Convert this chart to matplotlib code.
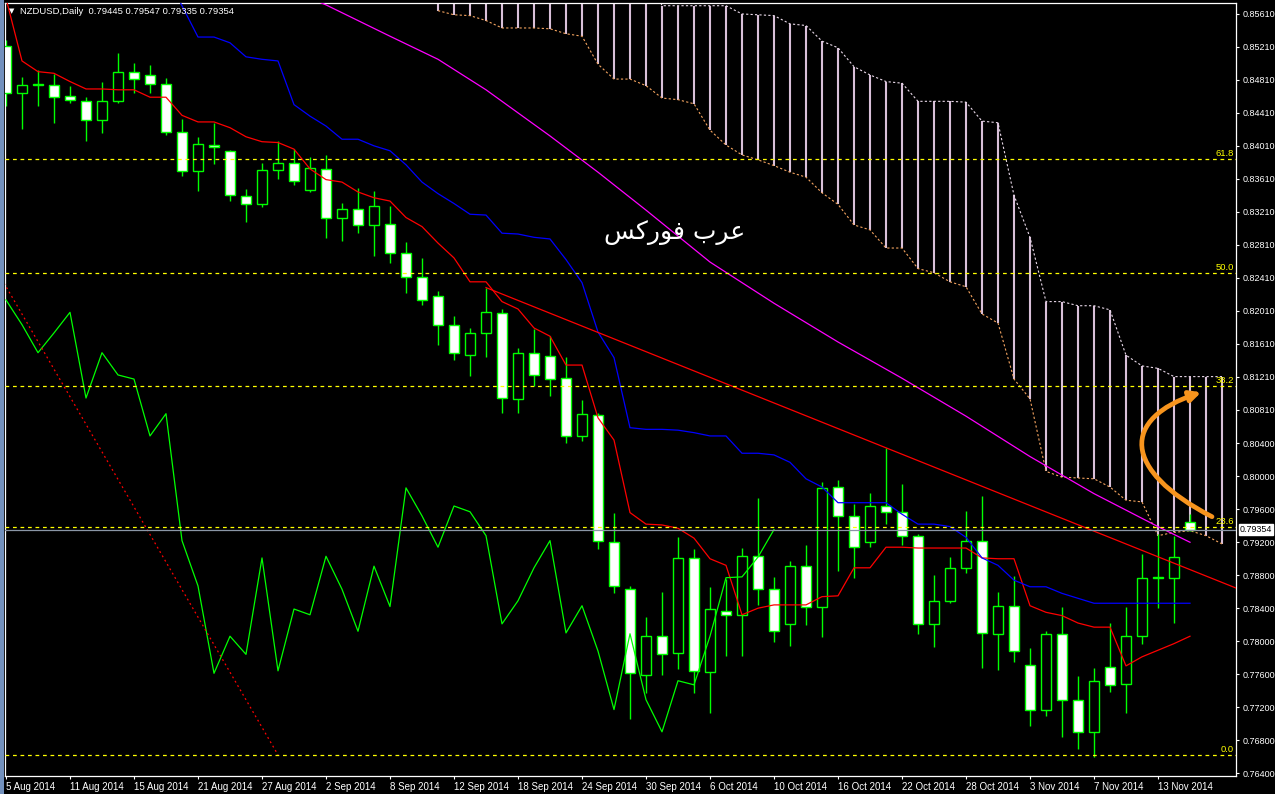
import numpy as np
import pandas as pd
import matplotlib
matplotlib.use("Agg")
import matplotlib.pyplot as plt
from matplotlib.patches import Rectangle, FancyArrowPatch
from matplotlib.path import Path
import matplotlib.transforms as mtransforms

plt.rcParams['font.family'] = ['Liberation Sans', 'DejaVu Sans']

# ---------------- data ----------------
symbol = "NZDUSD,Daily"
dates = pd.bdate_range('2014-08-05', periods=75)

opens = [0.8522, 0.8465, 0.8476, 0.8475, 0.8462, 0.8455, 0.8432, 0.8455, 0.8491, 0.8487,
         0.8476, 0.8418, 0.8371, 0.8402, 0.8395, 0.8340, 0.8331, 0.8372, 0.8380, 0.8347,
         0.8373, 0.8314, 0.8324, 0.8305, 0.8306, 0.8271, 0.8242, 0.8219, 0.8184, 0.8147,
         0.8174, 0.8198, 0.8094, 0.8150, 0.8146, 0.8119, 0.8049, 0.8074, 0.7920, 0.7863,
         0.7759, 0.7806, 0.7786, 0.7901, 0.7763, 0.7837, 0.7832, 0.7903, 0.7863, 0.7821,
         0.7891, 0.7842, 0.7987, 0.7952, 0.7920, 0.7964, 0.7957, 0.7928, 0.7821, 0.7849,
         0.7889, 0.7922, 0.7809, 0.7843, 0.7771, 0.7717, 0.7809, 0.7729, 0.7690, 0.7769,
         0.7748, 0.7806, 0.7877, 0.7877, 0.79445]
highs = [0.8530, 0.8485, 0.8493, 0.8488, 0.8474, 0.8460, 0.8479, 0.8514, 0.8502, 0.8499,
         0.8483, 0.8434, 0.8412, 0.8429, 0.8396, 0.8349, 0.8380, 0.8407, 0.8397, 0.8388,
         0.8390, 0.8332, 0.8350, 0.8346, 0.8328, 0.8284, 0.8265, 0.8225, 0.8195, 0.8180,
         0.8229, 0.8203, 0.8156, 0.8179, 0.8170, 0.8145, 0.8093, 0.8077, 0.7956, 0.7867,
         0.7829, 0.7860, 0.7926, 0.7912, 0.7866, 0.7875, 0.7913, 0.7974, 0.7878, 0.7897,
         0.7917, 0.7993, 0.7996, 0.7966, 0.7980, 0.8034, 0.7991, 0.7930, 0.7880, 0.7902,
         0.7958, 0.7976, 0.7860, 0.7879, 0.7792, 0.7812, 0.7842, 0.7758, 0.7767, 0.7822,
         0.7842, 0.7906, 0.7930, 0.7928, 0.79547]
lows = [0.8449, 0.8421, 0.8449, 0.8429, 0.8453, 0.8407, 0.8417, 0.8453, 0.8465, 0.8465,
        0.8414, 0.8364, 0.8346, 0.8379, 0.8334, 0.8309, 0.8327, 0.8361, 0.8354, 0.8345,
        0.8289, 0.8286, 0.8295, 0.8267, 0.8259, 0.8223, 0.8208, 0.8159, 0.8141, 0.8122,
        0.8145, 0.8077, 0.8077, 0.8110, 0.8098, 0.8040, 0.8043, 0.7912, 0.7858, 0.7706,
        0.7737, 0.7759, 0.7766, 0.7737, 0.7713, 0.7782, 0.7782, 0.7844, 0.7799, 0.7794,
        0.7820, 0.7805, 0.7885, 0.7877, 0.7914, 0.7942, 0.7917, 0.7809, 0.7793, 0.7846,
        0.7883, 0.7767, 0.7765, 0.7775, 0.7697, 0.7709, 0.7684, 0.7669, 0.7659, 0.7738,
        0.7713, 0.7797, 0.7840, 0.7822, 0.79335]
closes = [0.8465, 0.8475, 0.8475, 0.8460, 0.8457, 0.8432, 0.8455, 0.8491, 0.8482, 0.8476,
          0.8418, 0.8371, 0.8403, 0.8400, 0.8341, 0.8331, 0.8372, 0.8380, 0.8358, 0.8374,
          0.8314, 0.8324, 0.8305, 0.8328, 0.8271, 0.8242, 0.8214, 0.8184, 0.8150, 0.8174,
          0.8199, 0.8095, 0.8150, 0.8123, 0.8118, 0.8049, 0.8076, 0.7922, 0.7867, 0.7761,
          0.7806, 0.7784, 0.7901, 0.7764, 0.7839, 0.7832, 0.7903, 0.7863, 0.7812, 0.7891,
          0.7842, 0.7986, 0.7952, 0.7914, 0.7964, 0.7957, 0.7928, 0.7821, 0.7849, 0.7889,
          0.7922, 0.7810, 0.7843, 0.7788, 0.7717, 0.7809, 0.7729, 0.7690, 0.7752, 0.7747,
          0.7806, 0.7877, 0.7878, 0.7902, 0.79354]

tenkan = [0.8580, 0.8504, 0.8491, 0.8489, 0.8479, 0.8470, 0.8470, 0.8469, 0.8469, 0.8460,
          0.8460, 0.8438, 0.8430, 0.8430, 0.8423, 0.8412, 0.8406, 0.8405, 0.8397, 0.8373,
          0.8360, 0.8357, 0.8345, 0.8338, 0.8334, 0.8314, 0.8303, 0.8283, 0.8265, 0.8236,
          0.8236, 0.8212, 0.8203, 0.8180, 0.8170, 0.8135, 0.8135, 0.8071, 0.8044, 0.7956,
          0.7942, 0.7941, 0.7937, 0.7925, 0.7900, 0.7892, 0.7832, 0.7840, 0.7844, 0.7844,
          0.7844, 0.7854, 0.7855, 0.7889, 0.7889, 0.7914, 0.7914, 0.7913, 0.7913, 0.7913,
          0.7913, 0.7901, 0.7900, 0.7900, 0.7843, 0.7835, 0.7831, 0.7822, 0.7817, 0.7817,
          0.7770, 0.7781, 0.7789, 0.7797, 0.7806]

kijun = [np.nan, np.nan, np.nan, np.nan, np.nan, np.nan, np.nan, np.nan, np.nan, np.nan,
         0.8608, 0.8571, 0.8533, 0.8533, 0.8526, 0.8509, 0.8506, 0.8504, 0.8451, 0.8437,
         0.8425, 0.8409, 0.8409, 0.8401, 0.8395, 0.8378, 0.8357, 0.8343, 0.8331, 0.8318,
         0.8317, 0.8295, 0.8294, 0.8290, 0.8288, 0.8263, 0.8235, 0.8175, 0.8144, 0.8059,
         0.8057, 0.8057, 0.8056, 0.8053, 0.8049, 0.8049, 0.8028, 0.8028, 0.8026, 0.8017,
         0.7997, 0.7987, 0.7968, 0.7968, 0.7968, 0.7968, 0.7954, 0.7942, 0.7942, 0.7939,
         0.7926, 0.7901, 0.7892, 0.7874, 0.7866, 0.7866, 0.7858, 0.7852, 0.7846, 0.7846,
         0.7846, 0.7846, 0.7846, 0.7846, 0.7846]

ma_bars = [19, 20, 24, 27, 30, 34, 37, 40, 44, 48, 52, 56, 60, 64, 68, 72, 74]
ma_vals = [0.8580, 0.8572, 0.8534, 0.8506, 0.8469, 0.8413, 0.8369, 0.8323, 0.8260, 0.8210,
           0.8163, 0.8119, 0.8073, 0.8024, 0.7979, 0.7939, 0.7920]

kumo_first_bar = 27
span_a = [0.8565, 0.8560, 0.8559, 0.8553, 0.8544, 0.8544, 0.8544, 0.8543, 0.8537, 0.8534,
          0.8500, 0.8482, 0.8482, 0.8474, 0.8459, 0.8457, 0.8452, 0.8420, 0.8402, 0.8390,
          0.8384, 0.8377, 0.8369, 0.8363, 0.8344, 0.8330, 0.8305, 0.8299, 0.8277, 0.8277,
          0.8252, 0.8247, 0.8236, 0.8230, 0.8197, 0.8186, 0.8118, 0.8094, 0.8006, 0.7999,
          0.7998, 0.7997, 0.7987, 0.7971, 0.7969, 0.7928, 0.7932, 0.7934, 0.7928, 0.7918]
span_b = [0.8620, 0.8620, 0.8620, 0.8620, 0.8620, 0.8620, 0.8620, 0.8620, 0.8620, 0.8620,
          0.8620, 0.8620, 0.8620, 0.8620, 0.8571, 0.8571, 0.8571, 0.8571, 0.8571, 0.8561,
          0.8560, 0.8559, 0.8549, 0.8547, 0.8528, 0.8520, 0.8497, 0.8487, 0.8479, 0.8477,
          0.8455, 0.8455, 0.8455, 0.8454, 0.8431, 0.8429, 0.8341, 0.8290, 0.8212, 0.8212,
          0.8207, 0.8207, 0.8202, 0.8147, 0.8134, 0.8131, 0.8121, 0.8121, 0.8121, 0.8121]
chikou_shift = 26

fib_labels = ["61.8", "50.0", "38.2", "23.6", "0.0"]
fib_prices = [0.8385, 0.8247, 0.8109, 0.7938, 0.7662]
fib_diag_bars = [-18, 17]
fib_diag_prices = [0.8832, 0.7662]

trend_bars = [30, 77]
trend_prices = [0.8229, 0.78635]

arrow_bars = [75.375, 69.7, 69.7, 74.7]
arrow_prices = [0.7951, 0.8008, 0.8070, 0.8102]

ytick_vals = [0.85610, 0.85210, 0.84810, 0.84410, 0.84010, 0.83610, 0.83210, 0.82810,
              0.82410, 0.82010, 0.81610, 0.81210, 0.80810, 0.80400, 0.80000, 0.79600,
              0.79200, 0.78800, 0.78400, 0.78000, 0.77600, 0.77200, 0.76800, 0.76400]

watermark = "\ufeb2\ufedb\ufead\ufeee\ufed3 \ufe8f\ufeae\ufecb"   # عرب فوركس (shaped)

# ---------------- figure ----------------
W, H = 1275, 794
fig = plt.figure(figsize=(W / 100, H / 100), dpi=100, facecolor='black')
ax = fig.add_axes([5 / W, 1 - 776 / H, 1231 / W, 773 / H])
ax.set_facecolor('black')
ax.set_xlim(-0.0625, 76.875)
ax.set_ylim(0.76364, 0.85743)

fig.patches.append(Rectangle((0, 0), 3.5 / W, 1, transform=fig.transFigure,
                             facecolor='#7391bd', edgecolor='none'))

n = len(closes)
xs = np.arange(n)

# Kumo
kb = np.arange(kumo_first_bar, kumo_first_bar + len(span_a))
ax.vlines(kb, span_a, span_b, color='#D8BFD8', lw=1.5, zorder=1)
ax.plot(kb, span_a, color='#F4A460', lw=0.8, ls=(0, (2, 2)), zorder=1.5)
ax.plot(kb, span_b, color='#E8D8E8', lw=0.8, ls=(0, (2, 2)), zorder=1.5)

# candles
lime = '#00FF00'
ax.vlines(xs, lows, highs, color=lime, lw=1.0, zorder=2)
for i in range(n):
    o, c = opens[i], closes[i]
    bottom = min(o, c)
    hgt = max(abs(c - o), 0.00004)
    face = 'white' if c < o else 'black'
    ax.add_patch(Rectangle((i - 0.3, bottom), 0.6, hgt, facecolor=face,
                           edgecolor=lime, lw=1.0, zorder=3))

# indicators
ax.plot(xs, tenkan, color='#FF0000', lw=0.9, zorder=4)
ax.plot(xs, kijun, color='#0000FF', lw=0.9, zorder=4)
ax.plot(ma_bars, ma_vals, color='#FF00FF', lw=0.9, zorder=4)
ax.plot(xs[:n - chikou_shift], closes[chikou_shift:], color=lime, lw=0.9, zorder=4)

# trend lines
ax.plot(trend_bars, trend_prices, color='#FF0000', lw=0.9, zorder=4)
ax.plot(fib_diag_bars, fib_diag_prices, color='#FF0000', lw=0.9, ls=(0, (1.5, 2.5)), zorder=4)

# fibonacci levels
blend = mtransforms.blended_transform_factory(ax.transAxes, ax.transData)
for lbl, p in zip(fib_labels, fib_prices):
    ax.axhline(p, color='#FFFF00', lw=0.9, ls=(0, (3, 3)), zorder=5)
    ax.text(0.9985, p + 0.00015, lbl, transform=blend, ha='right', va='bottom',
            color='#FFFF00', fontsize=6.8, zorder=6)

# current price line
ax.axhline(closes[-1], color='#8a96a6', lw=0.9, zorder=5)

# orange arrow
path = Path(list(zip(arrow_bars, arrow_prices)),
            [Path.MOVETO, Path.CURVE4, Path.CURVE4, Path.CURVE4])
arr = FancyArrowPatch(path=path, arrowstyle='-|>', mutation_scale=16,
                      color='#F7941D', lw=3.4, zorder=7)
ax.add_patch(arr)

# watermark
ax.text(41.8, 0.8296, watermark, color='white', fontsize=18, ha='center', va='center',
        family=['DejaVu Sans'], zorder=7)

# spines / ticks
for s in ax.spines.values():
    s.set_color('white')
    s.set_linewidth(0.9)

tick_idx = list(range(0, n, 4))
ax.set_xticks(tick_idx)
ax.set_xticklabels([f"{dates[i].day} {dates[i]:%b %Y}" for i in tick_idx])
for t in ax.get_xticklabels():
    t.set_horizontalalignment('left')
ax.yaxis.tick_right()
ax.set_yticks(ytick_vals)
ax.set_yticklabels([f"{v:.5f}" for v in ytick_vals])
ax.tick_params(axis='both', colors='white', labelcolor='white',
               length=2.5, width=0.8, direction='out')
ax.tick_params(axis='x', pad=1.5, labelsize=7.0)
ax.tick_params(axis='y', pad=2.0, labelsize=6.5)

# current price label on the axis
ax.text(1.003, closes[-1], f"{closes[-1]:.5f}", transform=blend, ha='left', va='center',
        color='black', fontsize=6.4, zorder=8, clip_on=False,
        bbox=dict(facecolor='white', edgecolor='white', pad=0.8))

# header
fig.text(9 / W, 1 - 11 / H, "\u25bc", color='white', fontsize=5, va='center',
         family=['DejaVu Sans'])
fig.text(20 / W, 1 - 11 / H,
         f"{symbol}  {opens[-1]:.5f} {highs[-1]:.5f} {lows[-1]:.5f} {closes[-1]:.5f}",
         color='white', fontsize=6.8, va='center')

fig.savefig('out.png', dpi=100, facecolor='black')
